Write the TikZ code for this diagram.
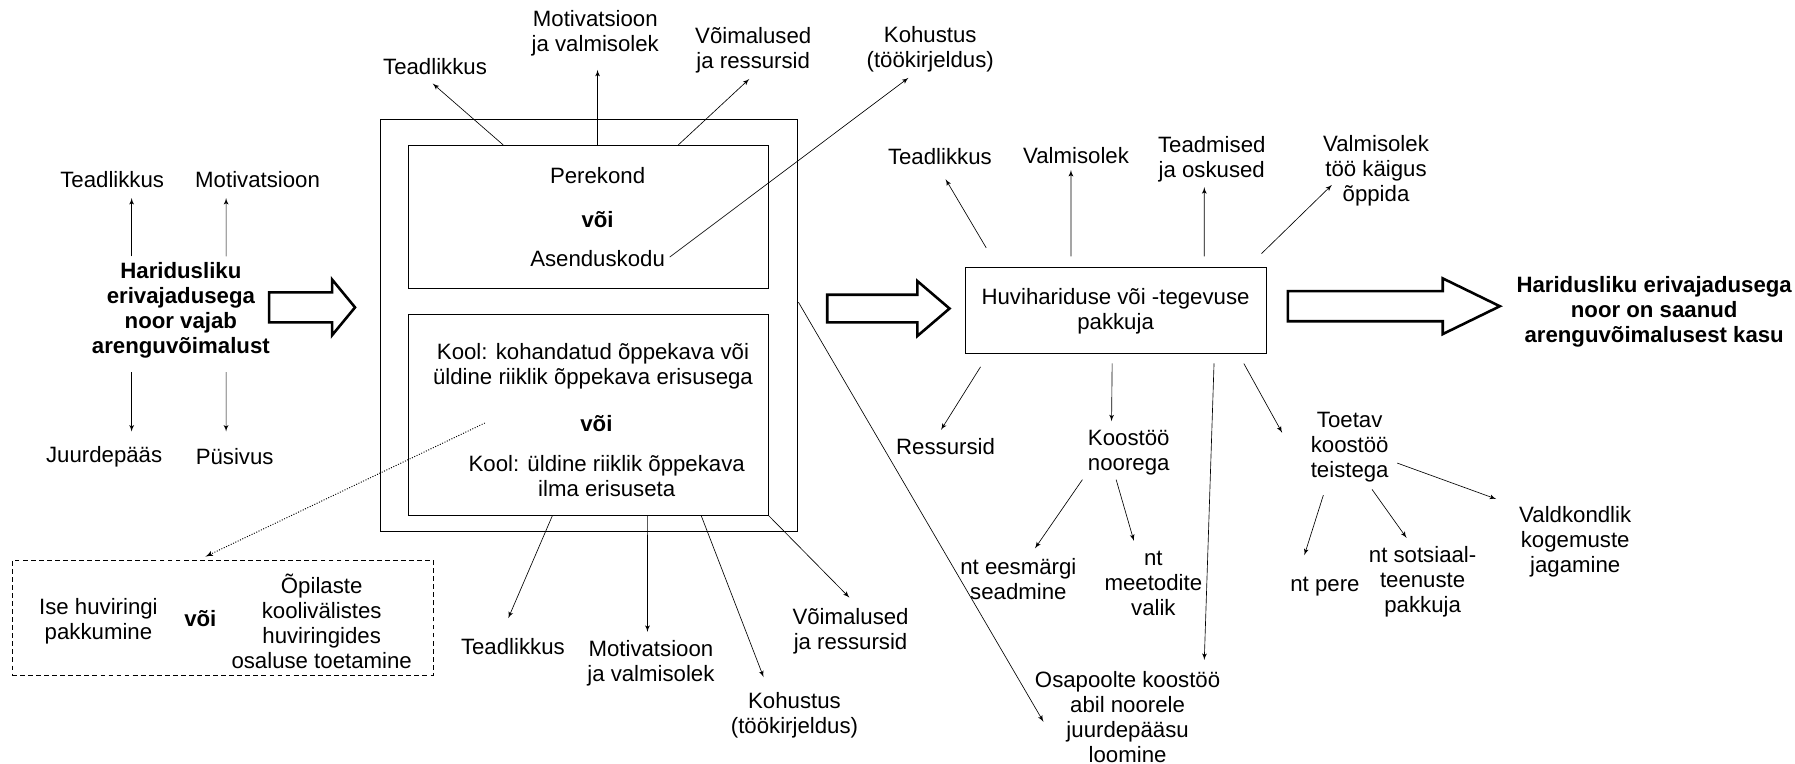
\documentclass[tikz,border=0pt]{standalone}
\usepackage{fontspec}
\setmainfont{Liberation Sans}
\usepackage{tikz}
\usetikzlibrary{arrows,calc,shapes}

\begin{document}
\begin{tikzpicture}[auto,>=latex',x=0.025cm,y=-0.025cm,line width=0.4pt]
	\tikzstyle{txt} = [align=center, inner sep=0pt, font=\fontsize{13.8}{15.5}\selectfont]
	\tikzstyle{txtb} = [align=center, inner sep=0pt, font=\fontsize{13.8}{15.5}\selectfont\bfseries]
	\tikzstyle{block} = [draw, rectangle, line width=0.6pt, inner sep=0pt]
	\tikzstyle{bigarrow} = [draw, single arrow, line width=1.6pt, inner xsep=0pt, anchor=tail, single arrow head indent=0pt]

	\useasboundingbox (0,0) rectangle (1568,667);

	\node [txtb] (hen) at (158,271) {Haridusliku\\erivajadusega\\noor vajab\\arenguvõimalust};
	\node [txt] (l_tead) at (98,157) {Teadlikkus};
	\node [txt] (l_moti) at (225,157) {Motivatsioon};
	\node [txt] (l_juur) at (91,399) {Juurdepääs};
	\node [txt] (l_pysi) at (205,399) {Püsivus};
	\node [bigarrow, minimum height=1.875cm, inner ysep=0.3cm, single arrow head extend=0.28cm, single arrow tip angle=101] (arr1) at (234,268.5) {};

	\node [block, minimum width=9.125cm, minimum height=9cm] (outer) at (514.5,284) {};
	\node [block, minimum width=7.85cm, minimum height=3.125cm] (inner1) at (514,189.5) {};
	\node [block, minimum width=7.85cm, minimum height=4.375cm] (inner2) at (514,362.5) {};
	\node [txt] (perek) at (522,153) {Perekond};
	\node [txtb] (voi1) at (522,192) {või};
	\node [txt] (asend) at (522,225.6) {Asenduskodu};
	\node [txt] (kool1) at (518,320) {Kool: kohandatud õppekava või\\üldine riiklik õppekava erisusega};
	\node [txtb] (voi2) at (521,370) {või};
	\node [txt] (kool2) at (530,415.5) {Kool: üldine riiklik õppekava\\ilma erisuseta};

	\node [txt] (t_tead) at (380,58) {Teadlikkus};
	\node [txt] (t_moti) at (520,29) {Motivatsioon\\ja valmisolek};
	\node [txt] (t_voim) at (658,43.5) {Võimalused\\ja ressursid};
	\node [txt] (t_koh) at (812.6,43) {Kohustus\\(töökirjeldus)};
	\node [txt] (b_tead) at (448,565) {Teadlikkus};
	\node [txt] (b_moti) at (568.6,579) {Motivatsioon\\ja valmisolek};
	\node [txt] (b_koh) at (694,624.5) {Kohustus\\(töökirjeldus)};
	\node [txt] (b_voim) at (743,551) {Võimalused\\ja ressursid};

	\node [draw, densely dashed, minimum width=9.2cm, minimum height=2.5cm] (dbox) at (194.5,539.5) {};
	\node [txt] (ise) at (86,543) {Ise huviringi\\pakkumine};
	\node [txtb] (voi3) at (175,540) {või};
	\node [txt] (opil) at (281,543) {Õpilaste\\koolivälistes\\huviringides\\osaluse toetamine};

	\node [bigarrow, minimum height=2.67cm, inner ysep=0.2725cm, single arrow head extend=0.3cm, single arrow tip angle=81] (arr2) at (721.5,269.5) {};
	\node [block, txt, inner sep=0pt, line width=0.6pt, draw, minimum width=6.575cm, minimum height=1.875cm] (huvi) at (974.5,271.5) {Huvihariduse või -tegevuse\\pakkuja};
	\node [txt] (r_tead) at (821,136.5) {Teadlikkus};
	\node [txt] (r_valm) at (940,136) {Valmisolek};
	\node [txt] (r_teadm) at (1058.5,139.5) {Teadmised\\ja oskused};
	\node [txt] (r_valm2) at (1202,149) {Valmisolek\\töö käigus\\õppida};
	\node [txt] (r_ress) at (826,390) {Ressursid};
	\node [txt] (r_koost) at (986,395) {Koostöö\\noorega};
	\node [txt] (r_toet) at (1179,390.5) {Toetav\\koostöö\\teistega};
	\node [txt] (r_eesm) at (889.6,505.5) {nt eesmärgi\\seadmine};
	\node [txt] (r_meet) at (1007.5,510) {nt\\meetodite\\valik};
	\node [txt] (r_pere) at (1157.4,512.5) {nt pere};
	\node [txt] (r_sots) at (1242.7,508.4) {nt sotsiaal-\\teenuste\\pakkuja};
	\node [txt] (r_vald) at (1376,473.4) {Valdkondlik\\kogemuste\\jagamine};
	\node [txt] (osap) at (985,626) {Osapoolte koostöö\\abil noorele\\juurdepääsu\\loomine};

	\node [bigarrow, minimum height=4.63cm, inner ysep=0.3cm, single arrow head extend=0.28cm, single arrow tip angle=52] (arr3) at (1123.8,267.5) {};
	\node [txtb] (goal) at (1445,272) {Haridusliku erivajadusega\\noor on saanud\\arenguvõimalusest kasu};

	\draw [->] ($(hen)+(-43,-47)$) -- ($(l_tead)+(17,16)$);
	\draw [->] ($(hen)+(39.5,-47)$) -- ($(l_moti)+(-27.5,16)$);
	\draw [->] ($(hen)+(-43,54)$) -- ($(l_juur)+(24,-22)$);
	\draw [->] ($(hen)+(39.5,54)$) -- ($(l_pysi)+(-7.5,-22)$);

	\draw [->] ($(inner1.north west)+(83,0)$) -- ($(t_tead)+(-2,15)$);
	\draw [->] ($(inner1.north)+(8,0)$) -- ($(t_moti)+(2,32)$);
	\draw [->] ($(inner1.north west)+(236,0)$) -- ($(t_voim)+(-3.5,25.5)$);
	\draw [->] ($(asend)+(63,-1)$) -- ($(t_koh)+(-19,25)$);

	\draw [->] ($(inner2.south west)+(126,0)$) -- ($(b_tead)+(-4,-25)$);
	\draw [->] ($(inner2.south west)+(209,0)$) -- ($(b_moti)+(-3,-27)$);
	\draw [->] ($(inner2.south west)+(256,0)$) -- ($(b_koh)+(-27,-33)$);
	\draw [->] (inner2.south east) -- ($(b_voim)+(-1,-29)$);
	\draw [->, densely dotted, line width=0.6pt] ($(inner2.west)+(67,7)$) -- ($(dbox.north)+(-15,-3)$);
	\draw [->] ($(outer.east)+(0,-20)$) -- ($(osap)+(-73.5,4.5)$);

	\draw [->] ($(huvi)+(-113,-55)$) -- ($(r_tead)+(5,20)$);
	\draw [->] ($(huvi)+(-39,-47.5)$) -- ($(r_valm)+(-4.5,12.5)$);
	\draw [->] ($(huvi)+(77.5,-47.5)$) -- ($(r_teadm)+(-6.5,24)$);
	\draw [->] ($(huvi)+(127.5,-50)$) -- ($(r_valm2)+(-38.5,12.5)$);
	\draw [->] ($(huvi)+(-118,49)$) -- ($(r_ress)+(-4,-14.5)$);
	\draw [->] ($(huvi)+(-3,46)$) -- ($(r_koost)+(-15,-27)$);
	\draw [->] ($(huvi)+(86,46)$) -- ($(osap)+(67,-49.5)$);
	\draw [->] ($(huvi)+(112,46)$) -- ($(r_toet)+(-59,-12.5)$);

	\draw [->] ($(r_koost)+(-40.5,24)$) -- ($(r_eesm)+(14.5,-26.5)$);
	\draw [->] ($(r_koost)+(-11,24)$) -- ($(r_meet)+(-17,-37.5)$);
	\draw [->] ($(r_toet)+(-23,42)$) -- ($(r_pere)+(-18,-27.5)$);
	\draw [->] ($(r_toet)+(19.5,37)$) -- ($(r_sots)+(-14,-38.5)$);
	\draw [->] ($(r_toet)+(41.5,14)$) -- ($(r_vald)+(-69,-37.5)$);

\end{tikzpicture}
\end{document}
